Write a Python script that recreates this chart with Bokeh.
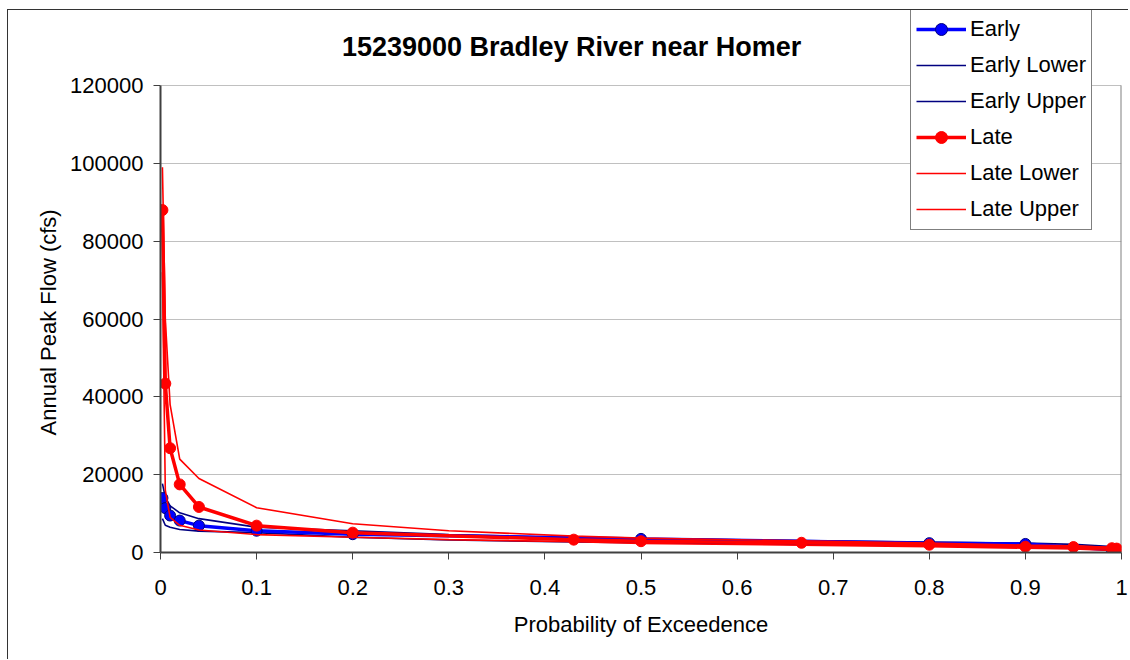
from bokeh.plotting import figure
from bokeh.models import (Legend, LegendItem, FixedTicker, Range1d, Label, Title,
                          CustomJSTickFormatter)
from bokeh.embed import file_html
from bokeh.resources import INLINE

# ---------------- data ----------------
early_x = [0.002, 0.005, 0.01, 0.02, 0.04, 0.1, 0.2, 0.5, 0.8, 0.9, 0.99]
early_y = [14000, 11400, 9500, 8200, 6900, 5600, 4700, 3500, 2400, 2200, 700]

late_x = [0.002, 0.005, 0.01, 0.02, 0.04, 0.1, 0.2, 0.43, 0.5, 0.667, 0.8, 0.9, 0.95, 0.99, 0.995]
late_y = [88000, 43400, 26800, 17500, 11700, 6900, 5100, 3300, 2900, 2500, 2000, 1500, 1400, 1100, 1000]

band_x = [0.002, 0.005, 0.01, 0.02, 0.04, 0.1, 0.2, 0.3, 0.43, 0.5, 0.667, 0.8, 0.9, 0.95, 0.99, 0.995]
early_lower = [8700, 7000, 6500, 5900, 5500, 5100, 3900, 3200, 2700, 2500, 2100, 1800, 1500, 1300, 800, 600]
early_upper = [17700, 14200, 12000, 10200, 8700, 6500, 5600, 4600, 3800, 3600, 3100, 2700, 2400, 2100, 1500, 1300]
late_lower = [72000, 16000, 9000, 7000, 5800, 4600, 3900, 3300, 2800, 2300, 1900, 1500, 1100, 900, 500, 400]
late_upper = [99000, 60000, 38000, 24000, 19000, 11500, 7400, 5600, 4200, 3700, 3000, 2400, 1900, 1700, 1300, 1200]

x_ticks = [0, 0.1, 0.2, 0.3, 0.4, 0.5, 0.6, 0.7, 0.8, 0.9, 1.0]
y_ticks = [0, 20000, 40000, 60000, 80000, 100000, 120000]

title_text = "15239000 Bradley River near Homer"
x_label = "Probability of Exceedence"
y_label = "Annual Peak Flow (cfs)"

FONT = "Liberation Sans"

Y_TOP = 120000 * 542 / 467  # frame extends above the plot area to host title/legend

p = figure(width=1121, height=650, output_backend="svg", toolbar_location=None,
           x_range=Range1d(0, 1), y_range=Range1d(0, Y_TOP),
           min_border_left=152, min_border_right=8, min_border_top=0, min_border_bottom=108,
           margin=(9, 0, 0, 7),
           styles={"border-left": "1px solid #333333", "border-top": "1px solid #333333"})

p.background_fill_color = "white"
p.border_fill_color = "white"
p.outline_line_color = None

p.xgrid.visible = False
p.ygrid.grid_line_color = "#C0C0C0"
p.ygrid.grid_line_width = 1

p.xaxis.ticker = FixedTicker(ticks=x_ticks)
p.yaxis.ticker = FixedTicker(ticks=y_ticks)
p.yaxis.bounds = (y_ticks[0], y_ticks[-1])
p.xaxis.formatter = CustomJSTickFormatter(code="return (Math.round(tick*10)/10).toString();")
p.yaxis.formatter = CustomJSTickFormatter(code="return tick.toFixed(0);")
for ax in (p.xaxis[0], p.yaxis[0]):
    ax.axis_line_color = "#404040"
    ax.axis_line_width = 2
    ax.major_tick_line_color = "#404040"
    ax.major_tick_out = 7
    ax.major_tick_in = 0
    ax.minor_tick_line_color = None
    ax.major_label_text_font = FONT
    ax.major_label_text_font_size = "22px"
    ax.major_label_text_color = "black"
    ax.axis_label_text_font = FONT
    ax.axis_label_text_font_size = "22px"
    ax.axis_label_text_font_style = "normal"
    ax.axis_label_text_color = "black"
p.xaxis.axis_label = x_label
p.xaxis.major_label_standoff = 20
p.yaxis.major_label_standoff = 10
p.xaxis.axis_label_standoff = 14

# y-axis label as a vertical title in the left panel, centred on the plot area
p.add_layout(Title(text=y_label, align="left", offset=117, standoff=13,
                   text_font=FONT, text_font_size="22px", text_font_style="normal",
                   text_color="black"), "left")

# plot-area right border
p.segment(x0=[x_ticks[-1]], y0=[y_ticks[0]], x1=[x_ticks[-1]], y1=[y_ticks[-1]],
          line_color="#808080", line_width=2)

# title inside the extended frame
p.add_layout(Label(x=0.4277, y=129800, text=title_text, text_align="center",
                   text_baseline="middle", text_font=FONT, text_font_size="27px",
                   text_font_style="bold", text_color="black"))

navy = "#000080"
r_el = p.line(band_x, early_lower, line_color=navy, line_width=1.6)
r_eu = p.line(band_x, early_upper, line_color=navy, line_width=1.6)
r_e = p.line(early_x, early_y, line_color="#0000FF", line_width=3.5)
r_em = p.scatter(early_x, early_y, size=11, marker="circle", fill_color="#0000FF", line_color=navy, line_width=1)
r_ll = p.line(band_x, late_lower, line_color="#FF0000", line_width=1.6)
r_lu = p.line(band_x, late_upper, line_color="#FF0000", line_width=1.6)
r_l = p.line(late_x, late_y, line_color="#FF0000", line_width=3.5)
r_lm = p.scatter(late_x, late_y, size=11, marker="circle", fill_color="#FF0000", line_color="#FF0000", line_width=1)

legend = Legend(items=[
    LegendItem(label="Early", renderers=[r_e, r_em]),
    LegendItem(label="Early Lower", renderers=[r_el]),
    LegendItem(label="Early Upper", renderers=[r_eu]),
    LegendItem(label="Late", renderers=[r_l, r_lm]),
    LegendItem(label="Late Lower", renderers=[r_ll]),
    LegendItem(label="Late Upper", renderers=[r_lu]),
], location=(750, 322))
legend.label_text_font = FONT
legend.label_text_font_size = "22px"
legend.label_text_color = "black"
legend.glyph_width = 50
legend.glyph_height = 30
legend.label_height = 30
legend.spacing = 6
legend.padding = 5
legend.margin = 0
legend.label_standoff = 4
legend.border_line_color = "black"
legend.border_line_width = 1
legend.background_fill_color = "white"
legend.background_fill_alpha = 1
p.add_layout(legend, "center")

open("out.html", "w").write(file_html(p, INLINE))
